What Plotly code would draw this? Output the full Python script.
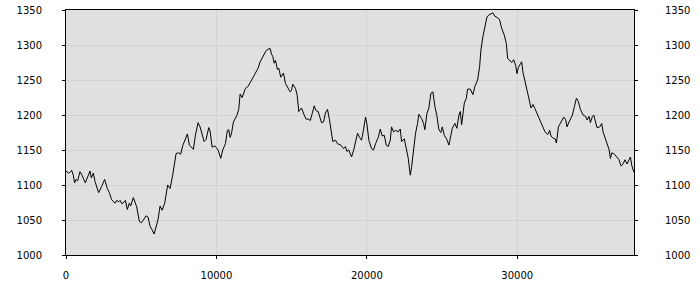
import plotly.graph_objects as go

x_vals = [0, 173, 306, 373, 486, 572, 665, 772, 931, 1064, 1284, 1417, 1597, 1683, 1816, 1929,
          2169, 2368, 2568, 2748, 2881, 3034, 3260, 3367, 3500, 3593, 3726, 3945, 4078, 4211,
          4298, 4477, 4591, 4697, 4877, 5010, 5143, 5322, 5456, 5589, 5722, 5855, 5988, 6121,
          6254, 6387, 6560, 6760, 6919, 7092, 7318, 7491, 7624, 7758, 8070, 8203, 8469, 8602,
          8782, 8915, 9181, 9314, 9487, 9580, 9713, 9886, 10113, 10286, 10419, 10598, 10731,
          10818, 10911, 10997, 11131, 11350, 11483, 11576, 11709, 11929, 12108, 12375, 12641,
          12774, 12907, 13127, 13306, 13439, 13572, 13659, 13745, 13838, 13925, 14058, 14144,
          14277, 14457, 14590, 14770, 14903, 14989, 15076, 15256, 15369, 15475, 15655, 15834,
          15967, 16140, 16234, 16367, 16500, 16633, 16766, 16985, 17118, 17251, 17384, 17517,
          17650, 17737, 17916, 18050, 18269, 18449, 18582, 18668, 18801, 18981, 19114, 19247,
          19381, 19514, 19647, 19780, 19913, 20000, 20133, 20312, 20445, 20578, 20758, 20891,
          21024, 21157, 21290, 21423, 21556, 21643, 21776, 21909, 22088, 22221, 22308, 22488,
          22621, 22754, 22887, 22973, 23106, 23239, 23372, 23459, 23638, 23771, 23858, 23991,
          24124, 24257, 24390, 24523, 24656, 24789, 24923, 25016, 25149, 25322, 25455, 25548,
          25681, 25854, 25987, 26120, 26213, 26300, 26479, 26612, 26699, 26878, 27051, 27184,
          27364, 27497, 27583, 27716, 27850, 27983, 28116, 28249, 28382, 28515, 28695, 28828,
          28961, 29140, 29273, 29360, 29493, 29626, 29760, 29893, 29979, 30072, 30205, 30292,
          30378, 30558, 30738, 30911, 31044, 31177, 31357, 31490, 31669, 31843, 32022, 32155,
          32242, 32375, 32508, 32601, 32734, 32907, 33087, 33220, 33306, 33440, 33666, 33799,
          33932, 34065, 34198, 34371, 34550, 34637, 34770, 34863, 34996, 35083, 35216, 35302,
          35482, 35615, 35702, 35835, 35968, 36100, 36193, 36280, 36459, 36592, 36765, 36898,
          37031, 37164, 37297, 37431, 37524, 37610, 37760]

y_vals = [1120, 1117, 1119, 1121, 1114, 1103, 1108, 1106, 1119, 1114, 1103, 1111, 1120, 1110, 1117, 1105,
          1089, 1098, 1108, 1095, 1089, 1079, 1074, 1078, 1076, 1078, 1073, 1078, 1065, 1074,
          1070, 1082, 1074, 1069, 1048, 1046, 1050, 1056, 1054, 1041, 1036, 1030, 1040, 1051,
          1070, 1064, 1074, 1100, 1095, 1114, 1145, 1146, 1144, 1156, 1173, 1157, 1151, 1171,
          1189, 1183, 1162, 1165, 1182, 1177, 1154, 1156, 1150, 1138, 1150, 1159, 1178,
          1179, 1168, 1173, 1190, 1199, 1208, 1230, 1225, 1238, 1241, 1252, 1262,
          1267, 1276, 1284, 1292, 1294, 1295, 1287, 1284, 1274, 1278, 1265, 1267,
          1254, 1260, 1245, 1239, 1233, 1235, 1244, 1238, 1228, 1205, 1210, 1200,
          1194, 1194, 1192, 1202, 1213, 1206, 1205, 1189, 1190, 1203, 1208, 1193,
          1176, 1162, 1164, 1159, 1157, 1152, 1155, 1148, 1150, 1140, 1149, 1160,
          1174, 1168, 1164, 1179, 1197, 1188, 1164, 1152, 1150, 1159, 1168, 1180,
          1170, 1171, 1157, 1155, 1164, 1183, 1176, 1178, 1176, 1180, 1162, 1166,
          1152, 1138, 1114, 1125, 1150, 1174, 1188, 1201, 1195, 1188, 1179, 1202,
          1210, 1231, 1233, 1212, 1199, 1179, 1175, 1183, 1171, 1165, 1157, 1167,
          1181, 1188, 1181, 1200, 1205, 1186, 1217, 1224, 1237, 1237, 1229, 1241,
          1250, 1269, 1293, 1312, 1326, 1340, 1343, 1345, 1346, 1341, 1339, 1336,
          1324, 1314, 1302, 1281, 1278, 1275, 1279, 1271, 1259, 1268, 1273, 1276,
          1261, 1246, 1227, 1210, 1215, 1209, 1200, 1195, 1186, 1176, 1172, 1178,
          1170, 1167, 1166, 1160, 1183, 1190, 1197, 1193, 1183, 1190, 1200, 1212,
          1224, 1219, 1208, 1200, 1198, 1193, 1198, 1189, 1198, 1200, 1189, 1182,
          1183, 1188, 1176, 1167, 1160, 1151, 1138, 1146, 1144, 1140, 1136, 1127,
          1130, 1136, 1130, 1136, 1140, 1128, 1118]

x_ticks = [0, 10000, 20000, 30000]
x_tick_labels = ["0", "10000", "20000", "30000"]
y_ticks = [1000, 1050, 1100, 1150, 1200, 1250, 1300, 1350]

fig = go.Figure()
fig.add_trace(go.Scatter(x=x_vals, y=y_vals, mode="lines",
                         line=dict(color="black", width=1), showlegend=False))
fig.add_trace(go.Scatter(x=x_vals, y=y_vals, mode="lines", yaxis="y2",
                         line=dict(color="rgba(0,0,0,0)", width=0), showlegend=False,
                         hoverinfo="skip"))

font = dict(family="DejaVu Sans", size=10, color="black")
common_y = dict(range=[1000, 1350], tickvals=y_ticks, ticks="outside", ticklen=3,
                tickcolor="black", tickfont=font, linecolor="black", linewidth=1,
                zeroline=False, automargin=False)

fig.update_layout(
    width=700, height=300,
    margin=dict(l=66, r=66, t=10, b=45),
    paper_bgcolor="white",
    plot_bgcolor="#e0e0e0",
    xaxis=dict(range=[0, 37760], tickvals=x_ticks, ticktext=x_tick_labels,
               ticks="outside", ticklen=3, automargin=False,
               tickcolor="black", tickfont=font, showline=True, linecolor="black",
               linewidth=1, mirror=True, showgrid=True, gridcolor="#d2d2d2",
               gridwidth=1, zeroline=False, ticklabelstandoff=8),
    yaxis=dict(**common_y, showline=True, showgrid=True, gridcolor="#d2d2d2",
               gridwidth=1, ticklabelstandoff=18),
    yaxis2=dict(**common_y, showline=True, overlaying="y", side="right",
                showgrid=False, ticklabelstandoff=25),
)

fig.write_html("out.html")
